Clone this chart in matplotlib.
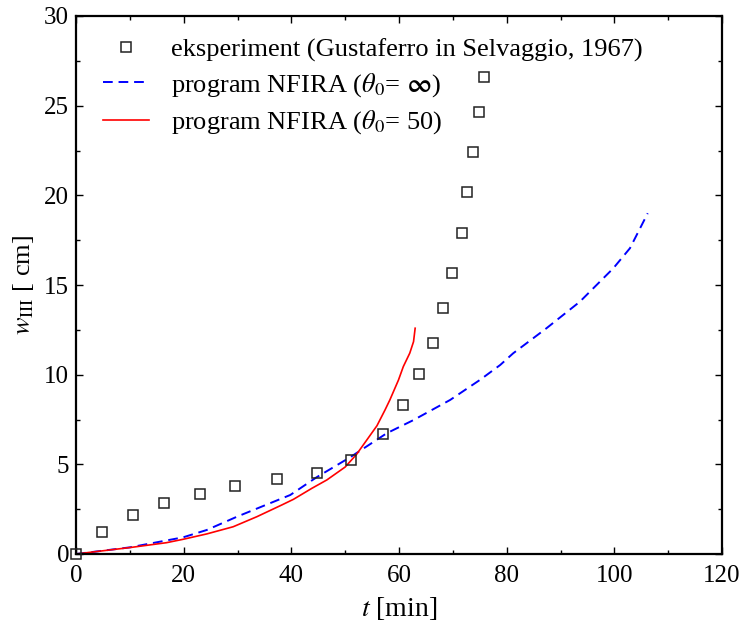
import matplotlib
matplotlib.use("Agg")
import matplotlib.pyplot as plt
from matplotlib.ticker import MultipleLocator

plt.rcParams['font.family'] = ['Liberation Serif', 'DejaVu Serif']
plt.rcParams['mathtext.fontset'] = 'stix'

# experiment (Gustaferro in Selvaggio, 1967)
exp_t = [0, 4.8, 10.5, 16.4, 23.0, 29.5, 37.3, 44.8, 51.1, 57.1, 60.7, 63.7,
         66.3, 68.1, 69.9, 71.7, 72.6, 73.7, 74.9, 75.7]
exp_w = [0, 1.24, 2.18, 2.83, 3.36, 3.79, 4.18, 4.50, 5.24, 6.69, 8.33, 10.02,
         11.78, 13.70, 15.69, 17.92, 20.19, 22.40, 24.65, 26.62]

# program NFIRA (theta0 = inf)
inf_t = [0, 10, 19.9, 24.3, 29.9, 34.8, 39.8, 44.7, 50.9, 57.7, 62.7, 69.5,
         75.0, 78.8, 81.2, 87.4, 93.6, 99.8, 102.9, 106.2]
inf_w = [0, 0.37, 0.93, 1.34, 2.08, 2.68, 3.29, 4.28, 5.39, 6.73, 7.47, 8.59,
         9.70, 10.54, 11.19, 12.59, 14.07, 15.93, 17.05, 19.0]

# program NFIRA (theta0 = 50)
t50_t = [0, 5, 10.3, 16.8, 19.9, 24.3, 29.2, 33.6, 38.2, 40.4, 43.8, 46.6,
         50.0, 52.1, 55.9, 57.4, 58.3, 59.9, 60.8, 62.0, 62.7, 63.0]
t50_w = [0, 0.18, 0.37, 0.63, 0.82, 1.12, 1.52, 2.08, 2.73, 3.05, 3.66, 4.13,
         4.85, 5.55, 7.15, 8.03, 8.59, 9.70, 10.45, 11.2, 11.84, 12.59]

labels = ['eksperiment (Gustaferro in Selvaggio, 1967)',
          r'program NFIRA ($\theta_0$= $\boldsymbol{\infty}$)',
          r'program NFIRA ($\theta_0$= 50)']

fig = plt.figure(figsize=(7.41, 6.28), dpi=100)
ax = fig.add_axes([76/741, 1-554/628, (722-76)/741, (554-16)/628])

ax.plot(exp_t, exp_w, linestyle='none', marker='s', markersize=7,
        markerfacecolor='none', markeredgecolor='#222222', markeredgewidth=1.1,
        label=labels[0], clip_on=False, zorder=3)
ax.plot(inf_t, inf_w, color='#0000ff', linestyle=(0, (5, 3)), linewidth=1.4,
        label=labels[1])
ax.plot(t50_t, t50_w, color='#ff0000', linewidth=1.2, label=labels[2])

ax.set_xlim(0, 120)
ax.set_ylim(0, 30)
ax.xaxis.set_major_locator(MultipleLocator(20))
ax.xaxis.set_minor_locator(MultipleLocator(10))
ax.yaxis.set_major_locator(MultipleLocator(5))
ax.yaxis.set_minor_locator(MultipleLocator(2.5))
ax.tick_params(which='both', direction='in', top=True, right=True,
               labelsize=18, width=1.0)
ax.tick_params(which='major', length=5)
ax.tick_params(which='minor', length=3)
ax.tick_params(axis='x', which='major', pad=8)
ax.tick_params(axis='y', which='major', pad=5)
for s in ax.spines.values():
    s.set_linewidth(1.6)

ax.set_xlabel(r'$t$ [min]', fontsize=20, labelpad=6)
ax.set_ylabel(r'$w_{\mathrm{III}}$ [ cm]', fontsize=19, labelpad=6)

leg = ax.legend(loc='upper left', bbox_to_anchor=(0.0255, 0.979), frameon=False,
                fontsize=19, handlelength=1.75, handletextpad=0.84,
                labelspacing=0.36, borderaxespad=0.0)

fig.savefig('out.png', dpi=100)
